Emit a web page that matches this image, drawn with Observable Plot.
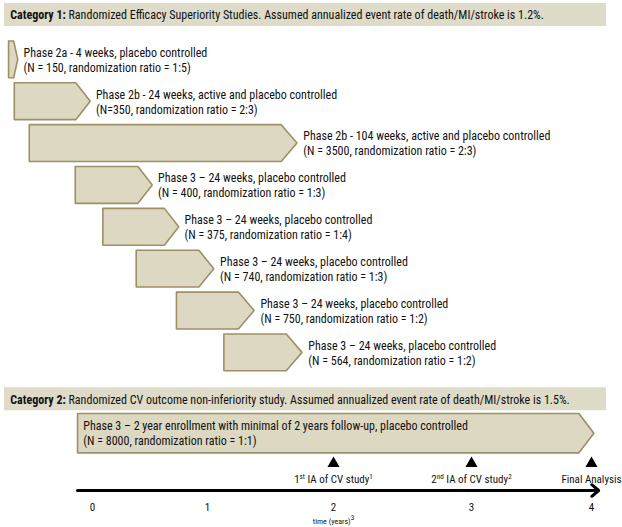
<!DOCTYPE html>
<html><head><meta charset="utf-8">
<script src="https://cdn.jsdelivr.net/npm/d3@7"></script>
<script src="https://cdn.jsdelivr.net/npm/@observablehq/plot@0.6"></script>
<style>body{margin:0;background:#fff} #chart svg{display:block}</style>
</head><body><div id="chart"></div>
<script>
// ---- data ----
const categoryNames = ["Category 1:", "Category 2:"];
const categoryDescriptions = [
  "Randomized Efficacy Superiority Studies. Assumed annualized event rate of death/MI/stroke is 1.2%.",
  "Randomized CV outcome non-inferiority study. Assumed annualized event rate of death/MI/stroke is 1.5%."
];
const studyTitles = [
  "Phase 2a - 4 weeks, placebo controlled",
  "Phase 2b - 24 weeks, active and placebo controlled",
  "Phase 2b - 104 weeks, active and placebo controlled",
  "Phase 3 \u2013 24 weeks, placebo controlled",
  "Phase 3 \u2013 24 weeks, placebo controlled",
  "Phase 3 \u2013 24 weeks, placebo controlled",
  "Phase 3 \u2013 24 weeks, placebo controlled",
  "Phase 3 \u2013 24 weeks, placebo controlled",
  "Phase 3 \u2013 2 year enrollment with minimal of 2 years follow-up, placebo controlled"
];
const studyDetails = [
  "(N = 150, randomization ratio = 1:5)",
  "(N=350, randomization ratio = 2:3)",
  "(N = 3500, randomization ratio = 2:3)",
  "(N = 400, randomization ratio = 1:3)",
  "(N = 375, randomization ratio = 1:4)",
  "(N = 740, randomization ratio = 1:3)",
  "(N = 750, randomization ratio = 1:2)",
  "(N = 564, randomization ratio = 1:2)",
  "(N = 8000, randomization ratio = 1:1)"
];
const studyCategory = [1, 1, 1, 1, 1, 1, 1, 1, 2];
const studyStart = [-0.73, -0.68, -0.55, -0.15, 0.09, 0.38, 0.73, 1.13, -0.13];
const studyEnd   = [-0.65, -0.02, 1.71, 0.52, 0.75, 1.05, 1.37, 1.75, 4.02];
const timeTicks = [0, 1, 2, 3, 4];
const milestoneYears = [2, 3, 4];
const milestoneLabels = ["1{st} IA of CV study{1}", "2{nd} IA of CV study{2}", "Final Analysis"];
const axisTitle = "time (years){3}";

// ---- layout ----
const FONT = "'Liberation Sans Narrow','Arial Narrow','Roboto Condensed',sans-serif";
const catRows = [-0.05, 9.13];
const cvRow = 9.93, triRow = 10.655, msLabelRow = 11.04, axisRow = 11.3, tickRow = 11.71, titleRow = 12.04;
// the reference's year ticks are not evenly spaced: warp years onto the drawn axis
const warp = d3.scaleLinear().domain(timeTicks).range([0, 0.9218, 1.9319, 3.0381, 4]);

const cats = categoryNames.map((n, i) => ({name: n, desc: categoryDescriptions[i], row: catRows[i]}));
const studies = studyTitles.map((t, i) => ({
  id: i, title: t, detail: studyDetails[i], cat: studyCategory[i],
  start: studyStart[i], end: studyEnd[i],
  row: studyCategory[i] === 1 ? i + 1 : cvRow
}));
const arrowPts = studies.flatMap(s => {
  const h = s.cat === 1 ? 0.44 : 0.47;
  const d = Math.min(0.125, (s.end - s.start) * 0.45);
  return [[s.start, s.row - h], [s.end - d, s.row - h], [s.end, s.row], [s.end - d, s.row + h], [s.start, s.row + h], [s.start, s.row - h]]
    .map(([x, y]) => ({id: s.id, x, y}));
});

const chart = Plot.plot({
  width: 622, height: 527,
  marginTop: 0, marginRight: 0, marginBottom: 0, marginLeft: 0,
  style: {fontFamily: FONT, background: "#fff"},
  x: {type: "linear", domain: [0, 4], range: [92, 591], transform: warp, axis: null},
  y: {type: "linear", domain: [0, 12], range: [17, 519.3], axis: null},
  marks: [
    Plot.rect(cats, {x1: () => -0.765, x2: () => 4.125, y1: d => d.row - 0.285, y2: d => d.row + 0.265, fill: "#dedbc9"}),
    Plot.text(cats, {x: () => -0.715, y: d => d.row, text: d => d.name + " " + d.desc, textAnchor: "start", fontSize: 12, fill: "#111"}),
    Plot.line(arrowPts, {x: d => d.x, y: d => d.y, z: d => d.id, fill: "#ddd8c1", stroke: "#9d9066", strokeWidth: 1.6, strokeLinejoin: "miter", curve: "linear"}),
    Plot.text(studies.filter(s => s.cat === 1), {x: d => d.end + 0.05, y: d => d.row, text: d => d.title + "\n" + d.detail, textAnchor: "start", lineAnchor: "middle", lineHeight: 1.25, fontSize: 12, fill: "#111"}),
    Plot.text(studies.filter(s => s.cat === 2), {x: d => d.start + 0.05, y: d => d.row, text: d => d.title + "\n" + d.detail, textAnchor: "start", lineAnchor: "middle", lineHeight: 1.25, fontSize: 12, fill: "#111"}),
    Plot.dot(milestoneYears, {x: d => d, y: () => triRow, symbol: "triangle", r: 4.5, fill: "#000", stroke: "none"}),
    Plot.text(milestoneLabels, {x: (d, i) => milestoneYears[i], y: () => msLabelRow, text: d => d, fontSize: 11, fill: "#111"}),
    Plot.arrow([0], {x1: () => -0.13, x2: () => 4.06, y1: () => axisRow, y2: () => axisRow, stroke: "#000", strokeWidth: 3, headLength: 4.5, headAngle: 80}),
    Plot.text(timeTicks, {x: d => d, y: () => tickRow, text: d => String(d), fontSize: 11, fill: "#111"}),
    Plot.text([axisTitle], {x: () => 2, y: () => titleRow, text: d => d, fontSize: 8, fill: "#111"})
  ]
});

// rich text: bold category prefix, superscripts
d3.select(chart).selectAll("text").each(function() {
  const el = d3.select(this);
  if (this.querySelector("tspan")) return;
  const txt = this.textContent;
  const fs = parseFloat(this.getAttribute("font-size")) || 11;
  if (/^Category \d:/.test(txt)) {
    const idx = txt.indexOf(":") + 1;
    el.text(null);
    el.append("tspan").attr("font-weight", "bold").text(txt.slice(0, idx));
    el.append("tspan").text(txt.slice(idx));
  } else if (txt.includes("{")) {
    const parts = txt.split(/(\{[^}]*\})/).filter(p => p.length);
    el.text(null);
    const shift = fs * 0.38;
    let raised = false;
    parts.forEach(p => {
      const sup = p.startsWith("{");
      const t = el.append("tspan").text(sup ? p.slice(1, -1) : p);
      if (sup) { t.attr("font-size", fs * 0.65).attr("dy", raised ? 0 : -shift); raised = true; }
      else if (raised) { t.attr("dy", shift); raised = false; }
    });
  }
});
document.getElementById("chart").appendChild(chart);
</script></body></html>
